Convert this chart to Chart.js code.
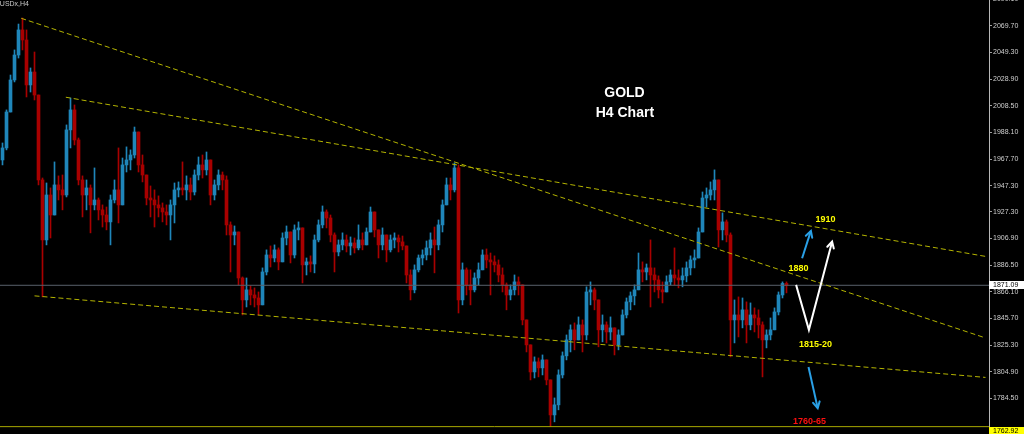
<!DOCTYPE html>
<html><head><meta charset="utf-8">
<script src="https://cdn.jsdelivr.net/npm/chart.js@4.4.1/dist/chart.umd.min.js"></script>
<style>html,body{margin:0;padding:0;background:#000;overflow:hidden}canvas{display:block}</style>
</head><body>
<canvas id="c" width="1024" height="434"></canvas>
<script>
// ---- data (H4 candles, left to right) ----
const symbolLabel = 'XAUUSDx,H4';
const firstOpen = 1967.0;
const highs = [1980.0,2005.3,2032.0,2051.2,2071.0,2075.6,2066.5,2037.4,2049.6,2012.9,
1953.2,1949.4,1945.6,1965.5,1954.8,1955.5,1993.8,2014.4,2009.1,1983.8,
1954.8,1951.7,1947.9,1960.9,1937.9,1932.6,1931.0,1940.2,1951.7,1976.2,
1968.5,1977.0,1974.7,1992.2,1988.4,1970.8,1953.2,1947.1,1944.1,1939.5,
1934.1,1932.6,1936.4,1949.4,1950.2,1965.5,1954.8,1953.2,1959.4,1969.3,
1970.8,1973.1,1967.0,1951.7,1959.4,1957.8,1954.8,1919.6,1916.5,1911.9,
1877.5,1876.7,1870.6,1869.1,1866.0,1884.4,1898.2,1901.2,1902.0,1899.7,
1911.2,1916.5,1911.9,1917.3,1919.6,1913.5,1892.0,1893.6,1909.6,1921.1,
1931.8,1928.8,1924.9,1911.2,1905.8,1911.2,1909.6,1908.1,1907.3,1917.3,
1911.2,1915.0,1931.0,1927.2,1913.5,1915.0,1908.8,1909.6,1911.2,1909.6,
1908.8,1901.2,1882.9,1886.7,1894.3,1898.2,1905.0,1911.2,1915.7,1921.1,
1936.4,1953.2,1953.2,1964.7,1963.2,1888.2,1884.4,1882.9,1880.6,1888.2,
1898.2,1898.9,1895.8,1893.6,1890.5,1884.4,1872.9,1871.4,1879.0,1877.5,
1871.4,1844.6,1825.5,1816.3,1815.5,1817.8,1814.0,1798.7,1784.9,1806.4,
1820.1,1833.1,1840.8,1842.3,1846.9,1844.6,1869.9,1873.7,1869.1,1859.9,
1848.4,1843.1,1846.9,1838.5,1837.0,1852.3,1861.4,1866.0,1871.4,1895.8,
1889.0,1887.4,1905.8,1884.4,1878.3,1873.7,1878.3,1882.9,1899.7,1882.9,
1884.4,1889.0,1893.6,1898.2,1915.0,1942.5,1945.6,1950.2,1959.4,1951.7,
1926.5,1921.1,1911.2,1859.9,1862.2,1861.4,1858.4,1857.6,1853.8,1852.3,
1843.1,1837.0,1846.1,1853.8,1866.0,1873.7,1873.7];
const lows = [1963.2,1974.7,2009.1,2026.7,2045.0,2051.2,2015.2,2019.0,2012.9,1947.9,
1862.2,1902.0,1907.3,1924.9,1936.4,1928.8,1938.7,1976.2,1978.5,1947.9,
1923.4,1928.8,1911.2,1928.8,1921.1,1915.7,1913.5,1902.0,1934.1,1918.8,
1936.4,1957.8,1959.4,1968.5,1957.8,1950.2,1932.6,1923.4,1915.7,1923.4,
1919.6,1917.3,1905.8,1918.8,1938.7,1940.2,1936.4,1936.4,1940.2,1951.7,
1953.2,1955.5,1932.6,1936.4,1944.1,1944.1,1909.6,1881.3,1902.0,1871.4,
1848.4,1854.5,1856.1,1854.5,1848.4,1856.1,1879.0,1885.1,1889.0,1882.9,
1890.5,1902.0,1888.2,1892.0,1905.8,1872.9,1879.0,1881.3,1880.6,1904.3,
1915.0,1915.0,1904.3,1881.3,1893.6,1898.2,1896.6,1894.3,1895.8,1898.2,
1898.2,1902.0,1911.9,1908.1,1892.0,1898.2,1889.0,1896.6,1899.7,1896.6,
1898.2,1872.9,1859.9,1865.3,1881.3,1886.7,1890.5,1894.3,1880.6,1898.2,
1911.9,1934.1,1936.4,1942.5,1849.9,1856.1,1863.7,1856.1,1866.0,1871.4,
1882.9,1884.4,1863.7,1881.3,1873.7,1866.0,1852.3,1859.9,1863.7,1863.7,
1840.8,1820.1,1798.7,1800.2,1801.0,1802.5,1794.9,1762.9,1766.6,1775.8,
1800.2,1814.0,1820.1,1821.7,1829.3,1820.1,1829.3,1856.1,1852.3,1824.0,
1827.8,1827.0,1829.3,1817.8,1821.7,1833.1,1846.1,1852.3,1856.1,1867.6,
1873.7,1875.2,1854.5,1866.0,1861.4,1857.6,1866.0,1871.4,1871.4,1869.1,
1869.9,1873.7,1879.0,1884.4,1892.0,1911.9,1931.0,1936.4,1936.4,1900.4,
1905.8,1904.3,1816.3,1827.0,1831.6,1838.5,1827.0,1837.0,1835.4,1830.8,
1801.0,1823.2,1829.3,1837.0,1848.4,1861.4,1865.3];
const closes = [1976.2,2003.7,2028.2,2047.3,2066.5,2058.8,2024.4,2034.3,2016.7,1951.7,
1905.8,1940.2,1924.9,1947.9,1944.1,1940.2,1990.0,2005.3,1982.3,1951.7,
1940.2,1945.6,1932.6,1936.4,1928.8,1924.9,1919.6,1936.4,1944.1,1932.6,
1963.2,1967.0,1970.8,1988.4,1963.2,1955.5,1937.9,1936.4,1932.6,1930.3,
1927.2,1924.9,1932.6,1944.1,1945.6,1944.1,1947.9,1942.5,1955.5,1963.2,
1959.4,1967.0,1940.2,1947.9,1955.5,1951.7,1917.3,1909.6,1911.9,1876.7,
1859.9,1867.6,1863.7,1861.4,1856.1,1881.3,1894.3,1892.0,1898.2,1889.0,
1907.3,1911.9,1894.3,1913.5,1915.0,1886.7,1889.0,1887.4,1905.8,1917.3,
1927.2,1922.6,1909.6,1896.6,1902.0,1905.8,1901.2,1903.5,1899.7,1905.8,
1902.0,1911.9,1927.2,1913.5,1902.0,1909.6,1898.2,1905.8,1907.3,1904.3,
1901.2,1879.0,1867.6,1882.9,1892.0,1894.3,1899.7,1905.8,1902.0,1917.3,
1932.6,1947.9,1944.1,1960.9,1859.9,1882.9,1871.4,1867.6,1876.7,1882.9,
1894.3,1890.5,1889.0,1886.7,1879.0,1871.4,1863.7,1867.6,1873.7,1871.4,
1844.6,1825.5,1804.8,1812.5,1807.9,1814.0,1798.7,1771.9,1779.6,1802.5,
1817.1,1829.3,1837.0,1829.3,1840.8,1833.1,1866.0,1867.6,1859.9,1837.0,
1840.8,1835.4,1838.5,1825.5,1833.1,1848.4,1858.4,1863.0,1867.6,1882.9,
1881.3,1884.4,1879.0,1875.2,1867.6,1866.0,1873.7,1879.0,1876.7,1875.2,
1878.3,1884.4,1890.5,1892.0,1911.9,1937.9,1940.2,1944.1,1951.7,1913.5,
1919.6,1909.6,1844.6,1848.4,1844.6,1852.3,1840.8,1848.4,1846.1,1840.8,
1829.3,1833.1,1837.0,1850.7,1863.7,1872.5,1871.1];

const yTickValues = [2090.10,2069.70,2049.30,2028.90,2008.50,1988.10,1967.70,1947.30,
                     1927.30,1906.90,1886.50,1866.10,1845.70,1825.30,1804.90,1784.50];
const lastPrice = 1871.09;
const supportPrice = 1762.92;

// trendlines (candle index, price)
const trendUpper  = [{x:4.68, y:2075.4}, {x:245.75, y:1830.8}];
const trendMiddle = [{x:15.83, y:2015.0}, {x:245.75, y:1893.2}];
const trendLower  = [{x:8.0, y:1863.0}, {x:245.75, y:1800.6}];

// hand-drawn arrows (candle index, price)
const arrowUpBlue   = [{x:199.9, y:1891.8}, {x:202.1, y:1912.7}];
const arrowV        = [{x:198.4, y:1871.4}, {x:201.6, y:1837.0}, {x:207.4, y:1904.5}];
const arrowDownBlue = [{x:201.5, y:1808.6}, {x:203.8, y:1777.1}];

const noteTexts  = ['GOLD', 'H4 Chart', '1910', '1880', '1815-20', '1760-65'];
const noteX      = [155.5, 155.6, 205.75, 199.0, 203.25, 201.75];
const noteY      = [2018.2, 2003.0, 1921.1, 1883.6, 1825.5, 1766.6];

// ---- derived chart structures ----
const opens = closes.map((c, i) => i === 0 ? firstOpen : closes[i - 1]);
const BULL = '#1f86ba', BEAR = '#a80000';
const dirColor = opens.map((o, i) => closes[i] >= o ? BULL : BEAR);
const wickData = highs.map((h, i) => ({x: i, y: [Math.min(lows[i], opens[i], closes[i]), Math.max(h, opens[i], closes[i])]}));
const bodyData = closes.map((c, i) => ({x: i, y: [opens[i], c]}));

const X_MIN = -0.625, X_MAX = -0.625 + 989 / 4;
const Y_MIN = 1757.3, Y_MAX = 2089.4;
const fullSpan = (v) => [{x: X_MIN, y: v}, {x: X_MAX, y: v}];

const TRENDCOL = '#b4b400';
const FONT = '"Liberation Sans", Arial, sans-serif';

const bgPlugin = {
  id: 'bg',
  beforeDraw(chart) {
    const c = chart.ctx; c.save(); c.fillStyle = '#000'; c.fillRect(0, 0, chart.width, chart.height); c.restore();
  }
};

function arrowHead(ctx, p1, p2, color) {
  const ang = Math.atan2(p2.y - p1.y, p2.x - p1.x);
  const L = 7, spread = 0.5;
  ctx.save();
  ctx.strokeStyle = color; ctx.lineWidth = 2; ctx.lineCap = 'round';
  ctx.beginPath();
  ctx.moveTo(p2.x - L * Math.cos(ang - spread), p2.y - L * Math.sin(ang - spread));
  ctx.lineTo(p2.x, p2.y);
  ctx.lineTo(p2.x - L * Math.cos(ang + spread), p2.y - L * Math.sin(ang + spread));
  ctx.stroke();
  ctx.restore();
}

const overlayPlugin = {
  id: 'overlay',
  afterDraw(chart) {
    const ctx = chart.ctx, xs = chart.scales.x, ys = chart.scales.y;
    const px = (p) => ({x: xs.getPixelForValue(p.x), y: ys.getPixelForValue(p.y)});
    [[arrowUpBlue, '#2aa0e6'], [arrowV, '#ffffff'], [arrowDownBlue, '#2aa0e6']].forEach(([pts, col]) => {
      const n = pts.length; arrowHead(ctx, px(pts[n - 2]), px(pts[n - 1]), col);
    });
    const styles = [
      {font: 'bold 14px ' + FONT, color: '#ffffff'},
      {font: 'bold 14px ' + FONT, color: '#ffffff'},
      {font: 'bold 9px ' + FONT, color: '#ffff00'},
      {font: 'bold 9px ' + FONT, color: '#ffff00'},
      {font: 'bold 9px ' + FONT, color: '#ffff00'},
      {font: 'bold 9px ' + FONT, color: '#ff1010'}
    ];
    ctx.save();
    ctx.textAlign = 'center'; ctx.textBaseline = 'middle';
    noteTexts.forEach((t, i) => {
      ctx.font = styles[i].font; ctx.fillStyle = styles[i].color;
      ctx.fillText(t, xs.getPixelForValue(noteX[i]), ys.getPixelForValue(noteY[i]));
    });
    ctx.font = '7px ' + FONT; ctx.fillStyle = '#c8c8c8'; ctx.textAlign = 'right';
    ctx.fillText(symbolLabel, 29, 4);
    const area = chart.chartArea;
    const tag = (price, bg, dy) => {
      const y = Math.round(ys.getPixelForValue(price)) + dy;
      ctx.fillStyle = bg; ctx.fillRect(area.right, y - 4, chart.width - area.right, 8);
      ctx.fillStyle = '#000'; ctx.font = '7px ' + FONT; ctx.textAlign = 'left'; ctx.textBaseline = 'middle';
      ctx.fillText(price.toFixed(2), area.right + 4, y + 0.5);
    };
    tag(lastPrice, '#ffffff', 0);
    tag(supportPrice, '#ffff00', 4);
    ctx.restore();
  }
};

new Chart(document.getElementById('c'), {
  type: 'bar',
  data: {
    datasets: [
      {type: 'line', data: arrowUpBlue, borderColor: '#2aa0e6', borderWidth: 2, pointRadius: 0, order: 1},
      {type: 'line', data: arrowV, borderColor: '#ffffff', borderWidth: 2, pointRadius: 0, order: 1},
      {type: 'line', data: arrowDownBlue, borderColor: '#2aa0e6', borderWidth: 2, pointRadius: 0, order: 1},
      {type: 'line', data: trendUpper, borderColor: TRENDCOL, borderWidth: 1, borderDash: [5, 3], pointRadius: 0, order: 3},
      {type: 'line', data: trendMiddle, borderColor: TRENDCOL, borderWidth: 1, borderDash: [5, 3], pointRadius: 0, order: 3},
      {type: 'line', data: trendLower, borderColor: TRENDCOL, borderWidth: 1, borderDash: [5, 3], pointRadius: 0, order: 3},
      {type: 'line', data: fullSpan(lastPrice), borderColor: '#59606a', borderWidth: 1, pointRadius: 0, order: 4},
      {type: 'line', data: fullSpan(supportPrice), borderColor: '#a8a800', borderWidth: 1, pointRadius: 0, order: 4},
      {type: 'bar', data: wickData, backgroundColor: dirColor, barThickness: 1, grouped: false, borderWidth: 0, order: 10},
      {type: 'bar', data: bodyData, backgroundColor: dirColor, barThickness: 3, minBarLength: 1, grouped: false, borderWidth: 0, order: 9}
    ]
  },
  options: {
    responsive: false,
    animation: false,
    devicePixelRatio: 1,
    layout: {padding: 0},
    plugins: {legend: {display: false}, tooltip: {enabled: false}, title: {display: false}},
    scales: {
      x: {type: 'linear', min: X_MIN, max: X_MAX, display: false, offset: false, grid: {offset: false}},
      y: {
        type: 'linear', position: 'right', min: Y_MIN, max: Y_MAX, beginAtZero: false,
        afterBuildTicks: (s) => { s.ticks = yTickValues.map(v => ({value: v})); },
        afterFit: (s) => { s.width = 35; s.paddingTop = 0; s.paddingBottom = 0; },
        grid: {drawOnChartArea: false, drawTicks: true, tickLength: 3, color: '#a0a0a0'},
        border: {display: true, color: '#b8b8b8', width: 1},
        ticks: {
          autoSkip: false, padding: 1, color: '#cfcfcf',
          font: {family: FONT, size: 7},
          callback: (v) => Number(v).toFixed(2)
        }
      }
    }
  },
  plugins: [bgPlugin, overlayPlugin]
});
</script>
</body></html>
